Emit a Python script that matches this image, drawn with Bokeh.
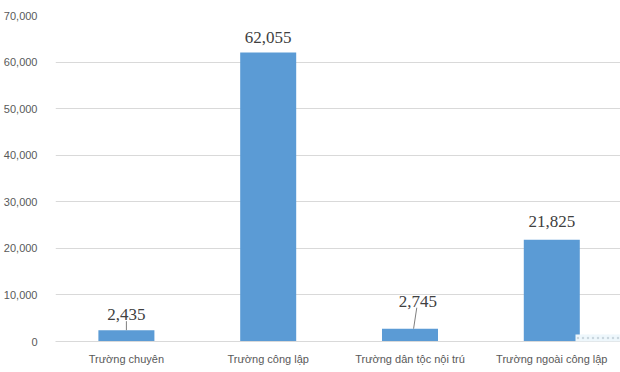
from bokeh.plotting import figure
from bokeh.models import Range1d, FixedTicker, NumeralTickFormatter, BoxAnnotation, ColumnDataSource
from bokeh.core.properties import value
from bokeh.embed import file_html
from bokeh.resources import INLINE

# ---- data ----
categories = ["Trường chuyên", "Trường công lập", "Trường dân tộc nội trú", "Trường ngoài công lập"]
values = [2435, 62055, 2745, 21825]
y_ticks = [0, 10000, 20000, 30000, 40000, 50000, 60000, 70000]

# ---- style (label placement in pixels) ----
label_dx = [0, 0, 8, 0]
label_dy = [-10, -10, -22, -13]
leader = [True, False, True, False]

W, H = 620, 372
left, top, bottom = 53, 15, 31
frame_h = H - top - bottom
px_per_cat = 142.3
frame_w = W - left

p = figure(width=W, height=H, output_backend="svg", toolbar_location=None,
           x_range=Range1d(-0.5, -0.5 + frame_w / px_per_cat),
           y_range=Range1d(0, 70000),
           min_border_left=left, min_border_right=0, min_border_top=top, min_border_bottom=bottom)
p.outline_line_color = None
p.background_fill_color = "white"
p.border_fill_color = "white"

xs = list(range(len(categories)))
p.vbar(x=xs, top=values, width=0.395, fill_color="#5B9BD5", line_color=None)

# axes
p.yaxis.ticker = FixedTicker(ticks=y_ticks)
p.yaxis.formatter = NumeralTickFormatter(format="0,0")
p.yaxis.axis_line_color = None
p.yaxis.major_tick_line_color = None
p.yaxis.minor_tick_line_color = None
p.yaxis.major_label_standoff = 12
p.yaxis.major_label_text_font = "Liberation Sans"
p.yaxis.major_label_text_font_size = "11px"
p.yaxis.major_label_text_color = "#595959"

p.xaxis.ticker = FixedTicker(ticks=xs)
p.xaxis.major_label_overrides = {i: c for i, c in enumerate(categories)}
p.xaxis.axis_line_color = "#D9D9D9"
p.xaxis.major_tick_line_color = None
p.xaxis.minor_tick_line_color = None
p.xaxis.major_label_standoff = 5
p.xaxis.major_label_text_font = "Liberation Sans"
p.xaxis.major_label_text_font_size = "11px"
p.xaxis.major_label_text_color = "#595959"

p.xgrid.grid_line_color = None
p.ygrid.grid_line_color = "#D9D9D9"
p.ygrid.ticker = FixedTicker(ticks=y_ticks)

# data labels
upp = 70000 / frame_h
labels = [f"{v:,}" for v in values]
src = ColumnDataSource(dict(x=xs, y=values, t=labels,
                            xo=label_dx, yo=label_dy))
p.text(x="x", y="y", text="t", source=src, x_offset="xo", y_offset="yo",
       text_align="center", text_baseline="bottom",
       text_font=value("Liberation Serif"), text_font_size="17px", text_color="#404040")

# leader lines
x0, y0, x1, y1 = [], [], [], []
for i, v in enumerate(values):
    if leader[i]:
        x0.append(xs[i] + (label_dx[i] * 0.45) / px_per_cat if label_dx[i] else xs[i])
        y0.append(v)
        x1.append(xs[i] + label_dx[i] * 0.85 / px_per_cat)
        y1.append(v + (-label_dy[i] - 1) * upp)
p.segment(x0=x0, y0=y0, x1=x1, y1=y1, line_color="#7F7F7F", line_width=1)

# light dotted overlay patch seen at the lower right of the source image
p.add_layout(BoxAnnotation(left=575, right=W, top=334, bottom=351,
                           left_units="canvas", right_units="canvas",
                           top_units="canvas", bottom_units="canvas",
                           fill_color="#EEF7FC", fill_alpha=1, line_color=None,
                           hatch_pattern="dot", hatch_color="#C9D6DE",
                           hatch_scale=5, hatch_weight=1, level="overlay"))

open("out.html", "w").write(file_html(p, INLINE))
